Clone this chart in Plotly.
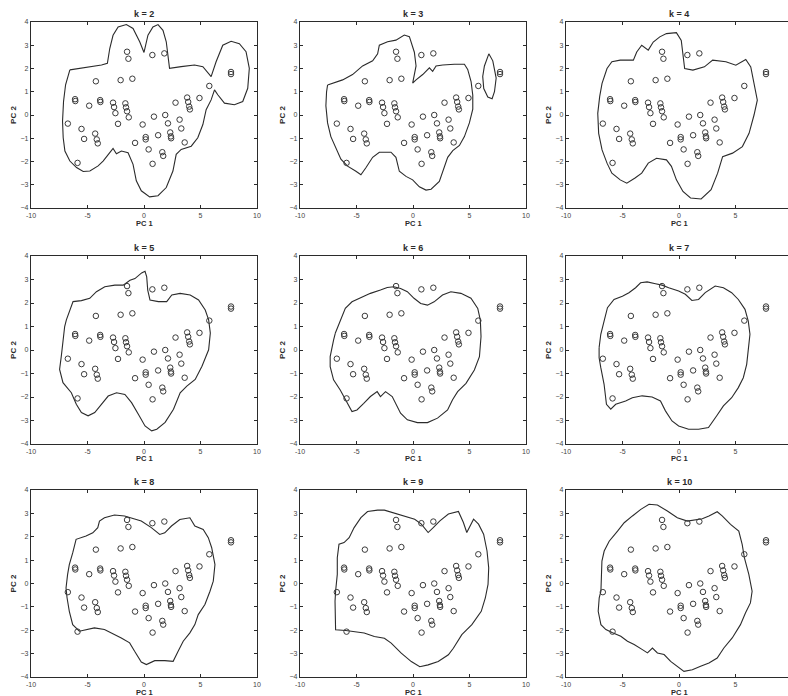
import plotly.graph_objects as go

# ---------------- data ----------------
PANEL_TITLES = ["k = 2", "k = 3", "k = 4", "k = 5", "k = 6", "k = 7", "k = 8", "k = 9", "k = 10"]
X_TICKS = [-10, -5, 0, 5, 10]
Y_TICKS = [-4, -3, -2, -1, 0, 1, 2, 3, 4]

PC1 = [-1.5, -1.38, 0.74, 1.8, -4.26, -2.07, -1.03, 5.78, -6.1, -6.08, -4.85, -3.88, -3.86,
       -2.74, -2.65, -2.53, -2.3, -1.65, -1.59, -1.5, -1.35, -6.74, -5.53, -5.3, -4.32, -4.18,
       -4.09, -5.88, -0.12, 0.88, 1.88, 2.12, 2.32, 2.38, 2.4, 2.79, 3.15, 3.3, 3.82, 3.91, 4.0,
       4.06, 4.91, 7.7, 7.7, -0.79, 0.15, 0.15, 1.25, 0.41, 1.62, 1.7, 0.76, 3.6]
PC2 = [2.72, 2.42, 2.58, 2.65, 1.45, 1.5, 1.56, 1.25, 0.68, 0.6, 0.4, 0.64, 0.56,
       0.53, 0.34, 0.08, -0.38, 0.5, 0.33, 0.16, -0.1, -0.37, -0.6, -1.03, -0.8, -1.05,
       -1.22, -2.06, -0.41, -0.07, 0.0, -0.36, -0.75, -0.92, -1.0, 0.53, -0.2, -0.58, 0.75, 0.56, 0.36,
       0.24, 0.73, 1.85, 1.76, -1.2, -0.95, -1.05, -0.87, -1.48, -1.6, -1.76, -2.1, -1.18]

K2_X = [-6.56, -5.53, -4.5, -3.76, -3.24, -3.03, -2.74, -2.29, -1.56, -0.97, -0.38, 0.0, 0.35, 0.79, 1.24,
        1.68, 1.97, 2.12, 2.26, 3.29, 4.47, 5.21, 5.65, 5.94, 6.38, 6.97, 7.71, 8.44, 9.03, 9.32, 9.18,
        8.74, 8.0, 7.12, 6.53, 6.24, 5.94, 5.5, 5.21, 4.76, 4.18, 3.29, 2.85, 2.56, 1.97, 1.24, 0.5,
        -0.24, -0.68, -0.97, -1.41, -2.0, -2.44, -2.74, -3.03, -3.62, -4.06, -4.79, -5.38, -5.97,
        -6.56, -7.0, -7.15, -7.21, -7.12, -6.94, -6.56]
K2_Y = [1.94, 2.01, 2.08, 2.15, 2.22, 2.86, 3.43, 3.79, 3.89, 3.72, 3.15, 2.69, 3.43, 3.79, 3.89,
        3.64, 3.15, 2.51, 2.01, 2.08, 2.15, 2.08, 1.79, 1.65, 2.29, 3.0, 3.17, 3.07, 2.72, 2.01, 1.15,
        0.58, 0.44, 0.51, 0.87, 1.08, 0.65, 0.23, -0.41, -0.98, -1.34, -1.48, -1.69, -2.41, -3.12,
        -3.47, -3.52, -3.26, -2.83, -2.12, -1.62, -1.55, -1.67, -1.44, -1.62, -1.98, -2.19, -2.41,
        -2.43, -2.26, -1.98, -1.55, -0.98, -0.27, 0.58, 1.3, 1.94]

K3_X = [-7.56, -6.23, -5.35, -4.46, -3.57, -3.13, -2.98, -2.25, -1.51, -0.77, -0.32, 0.12, 0.27,
        -0.03, 0.27, 0.86, 1.45, 1.74, 2.04, 2.63, 3.66, 4.55, 4.84, 5.14, 5.29, 5.29, 4.99, 4.55,
        4.11, 3.52, 3.07, 2.78, 2.33, 1.6, 1.15, 0.56, -0.03, -0.62, -1.21, -1.51, -1.95, -2.98,
        -3.57, -4.17, -4.61, -5.05, -5.79, -6.38, -6.82, -7.27, -7.56, -7.71, -7.65, -7.56]
K3_Y = [1.29, 1.51, 1.74, 2.11, 2.33, 2.63, 3.0, 3.15, 3.22, 3.44, 3.37, 2.7, 2.11,
        1.37, 1.51, 1.74, 2.03, 1.88, 2.11, 2.15, 2.18, 2.18, 1.96, 1.44, 0.85, 0.25, -0.34, -0.93,
        -1.31, -1.53, -1.82, -2.27, -2.86, -3.19, -3.23, -3.09, -2.79, -2.64, -2.42, -1.82, -1.6, -1.6,
        -1.82, -2.27, -2.57, -2.42, -2.2, -1.9, -1.45, -0.93, -0.34, 0.4, 0.99, 1.29]
K3B_X = [6.32, 6.71, 7.06, 7.36, 7.21, 7.0, 6.62, 6.26, 6.17, 6.32]
K3B_Y = [2.11, 2.63, 2.33, 1.59, 1.0, 0.7, 0.77, 1.14, 1.66, 2.11]

K4_X = [-6.81, -6.37, -5.94, -5.2, -4.04, -3.74, -3.3, -2.72, -2.28, -1.7, -1.11, -0.23, 0.2, 0.35,
        0.5, 1.23, 2.25, 2.98, 4.15, 5.03, 5.91, 6.35, 6.64, 6.93, 6.64, 6.2, 5.61, 4.74, 3.86, 3.42,
        2.84, 1.96, 1.02, 0.35, -0.23, -0.67, -1.11, -1.99, -2.72, -3.3, -3.89, -4.62, -5.2, -5.94,
        -6.37, -6.81, -7.11, -7.19, -7.02, -6.81]
K4_Y = [1.36, 2.0, 2.29, 2.36, 2.36, 2.71, 3.0, 2.79, 3.14, 3.36, 3.5, 3.54, 3.21, 2.64,
        2.0, 1.93, 2.07, 2.36, 2.29, 2.14, 2.39, 2.07, 1.36, 0.64, 0.0, -0.79, -1.36, -1.64, -1.79, -2.5,
        -3.21, -3.61, -3.57, -3.29, -2.79, -2.21, -1.93, -1.86, -2.07, -2.5, -2.71, -2.93, -2.79, -2.5,
        -2.07, -1.5, -0.79, 0.07, 0.79, 1.36]

K5_X = [-6.87, -6.58, -6.28, -5.54, -4.8, -4.21, -3.47, -2.58, -1.84, -1.24, -0.8, -0.21, 0.09, 0.24,
        0.33, 0.53, 1.27, 2.01, 2.46, 3.2, 4.09, 4.83, 5.42, 5.72, 5.87, 5.72, 5.13, 4.53, 3.79, 3.2,
        2.61, 1.87, 1.13, 0.68, 0.09, -0.5, -1.1, -1.69, -2.43, -3.17, -3.76, -4.36, -4.95, -5.54,
        -5.99, -6.43, -7.17, -7.47, -7.32, -7.17, -7.02, -6.87]
K5_Y = [1.28, 1.7, 2.06, 2.1, 2.2, 2.48, 2.69, 2.76, 2.76, 2.97, 3.04, 3.28, 3.35, 3.11,
        2.55, 2.13, 2.06, 2.06, 2.34, 2.41, 2.34, 2.13, 1.7, 1.28, 0.72, 0.01, -0.69, -1.25, -1.54, -1.82,
        -2.52, -3.08, -3.37, -3.44, -3.23, -2.73, -2.24, -1.89, -1.82, -1.96, -2.31, -2.66, -2.8, -2.66,
        -2.31, -1.82, -1.39, -0.83, -0.27, 0.44, 1.0, 1.28]

K6_X = [-6.88, -6.44, -5.99, -5.4, -4.66, -3.77, -2.88, -2.28, -1.69, -1.1, -0.5, 0.09, 0.68, 1.28,
        1.87, 2.61, 3.35, 4.24, 5.13, 5.73, 5.96, 6.02, 5.88, 5.43, 4.69, 3.95, 3.5, 3.06, 2.17, 1.28,
        0.39, -0.5, -1.1, -1.54, -1.84, -2.43, -2.88, -3.17, -3.77, -4.36, -4.96, -5.4, -5.85, -6.44,
        -7.03, -7.33, -7.33, -7.18, -7.03, -6.88]
K6_Y = [0.71, 1.27, 1.77, 2.05, 2.2, 2.41, 2.55, 2.66, 2.69, 2.62, 2.48, 2.2, 1.98, 1.91,
        2.05, 2.34, 2.48, 2.41, 2.2, 1.77, 1.27, 0.57, -0.28, -0.85, -1.42, -1.77, -2.12, -2.55, -2.9, -3.09,
        -3.09, -2.97, -2.69, -2.27, -1.98, -1.77, -1.98, -1.77, -1.98, -2.27, -2.55, -2.62, -2.2, -1.7,
        -1.27, -0.71, -0.28, 0.14, 0.42, 0.71]

K7_X = [-7.07, -6.92, -6.63, -6.33, -5.75, -5.01, -4.43, -3.84, -3.4, -2.82, -2.08, -1.5, -0.91, -0.03,
        0.56, 1.14, 1.73, 2.32, 3.2, 3.93, 4.66, 5.25, 5.84, 6.13, 6.28, 6.13, 5.99, 5.69, 5.25, 4.66,
        3.93, 3.34, 2.61, 1.73, 0.85, -0.03, -0.62, -1.2, -1.64, -2.38, -3.26, -4.13, -4.72, -5.6,
        -6.04, -6.42, -6.63, -6.92, -7.07, -7.07]
K7_Y = [0.1, 0.67, 1.23, 1.8, 2.15, 2.29, 2.44, 2.65, 2.86, 2.9, 2.82, 2.76, 2.65, 2.51,
        2.37, 2.11, 2.15, 2.44, 2.72, 2.65, 2.44, 2.15, 1.73, 1.23, 0.67, -0.04, -0.61, -1.18, -1.6, -2.03,
        -2.38, -2.8, -3.3, -3.37, -3.37, -3.23, -3.02, -2.59, -2.17, -2.0, -1.95, -2.03, -2.17, -2.31,
        -2.52, -2.31, -1.46, -0.75, -0.33, 0.1]

K8_X = [-6.76, -6.61, -6.31, -6.01, -5.13, -4.53, -4.09, -3.94, -3.5, -2.61, -1.72, -1.13, -0.24, 0.65,
        1.39, 1.84, 2.43, 3.17, 4.06, 4.5, 5.24, 5.69, 5.99, 6.28, 6.13, 5.84, 5.39, 4.8, 4.5, 4.06,
        3.47, 3.02, 2.58, 1.84, 0.95, 0.21, -0.24, -0.83, -1.27, -2.01, -2.9, -3.5, -4.39, -5.13,
        -5.72, -6.31, -6.61, -6.81, -6.9, -6.76]
K8_Y = [0.39, 0.81, 1.31, 1.89, 2.03, 2.17, 2.39, 2.67, 2.81, 2.93, 2.89, 2.81, 2.67, 2.39,
        2.1, 2.17, 2.46, 2.74, 2.81, 2.46, 2.31, 1.96, 1.53, 0.81, 0.1, -0.33, -0.9, -1.33, -1.76, -2.11,
        -2.47, -2.9, -3.33, -3.3, -3.3, -3.47, -3.36, -2.9, -2.54, -2.33, -2.11, -1.97, -1.9, -1.97,
        -2.04, -1.76, -1.19, -0.61, -0.19, 0.39]

K9_X = [-6.85, -6.7, -6.7, -6.55, -6.1, -5.65, -5.21, -4.61, -4.02, -3.13, -2.53, -1.79, -0.74, 0.15,
        0.74, 1.34, 1.79, 2.38, 3.13, 4.02, 4.46, 4.76, 5.36, 5.8, 6.25, 6.55, 6.7, 6.64, 6.4, 6.04,
        5.21, 4.32, 3.57, 3.13, 2.23, 1.34, 0.6, -0.15, -1.04, -1.93, -2.53, -3.42, -4.32, -5.21,
        -5.95, -6.85, -6.9, -6.9, -6.85]
K9_Y = [-0.33, 0.39, 1.1, 1.68, 1.75, 1.96, 2.39, 2.82, 3.08, 3.14, 3.14, 3.04, 2.9, 2.75,
        2.54, 2.18, 2.39, 2.68, 2.97, 3.08, 2.61, 2.18, 2.75, 2.54, 2.11, 1.39, 0.67, -0.04, -0.62, -1.19,
        -1.76, -2.19, -2.77, -3.05, -3.34, -3.48, -3.56, -3.34, -2.98, -2.55, -2.34, -2.27, -2.12, -2.05,
        -2.01, -1.98, -1.33, -0.76, -0.33]

K10_X = [-6.91, -6.82, -6.62, -6.18, -5.44, -4.85, -4.12, -3.38, -2.65, -1.91, -1.03, -0.15, 0.74, 1.32,
         2.06, 2.65, 3.38, 3.82, 4.56, 5.29, 5.59, 5.79, 6.18, 6.47, 6.32, 5.88, 5.44, 4.71, 3.97, 3.38,
         2.65, 1.91, 1.18, 0.44, -0.15, -0.74, -1.32, -1.91, -2.35, -2.79, -3.24, -3.97, -4.56, -5.15,
         -5.88, -6.47, -6.91, -7.15, -7.06, -6.91]
K10_Y = [-0.33, 0.96, 1.39, 1.81, 2.24, 2.6, 2.89, 3.17, 3.39, 3.36, 3.1, 2.81, 2.67, 2.71,
         2.77, 2.89, 3.07, 2.89, 2.53, 2.24, 1.67, 1.1, 0.39, -0.33, -0.83, -1.26, -1.76, -2.33, -2.76, -3.19,
         -3.4, -3.54, -3.69, -3.76, -3.54, -3.33, -3.04, -2.97, -2.76, -2.97, -2.83, -2.61, -2.47, -2.26,
         -2.11, -1.97, -1.76, -1.19, -0.61, -0.33]

CONTOURS = [
    [(K2_X, K2_Y)],
    [(K3_X, K3_Y), (K3B_X, K3B_Y)],
    [(K4_X, K4_Y)],
    [(K5_X, K5_Y)],
    [(K6_X, K6_Y)],
    [(K7_X, K7_Y)],
    [(K8_X, K8_Y)],
    [(K9_X, K9_Y)],
    [(K10_X, K10_Y)],
]

# ---------------- layout geometry ----------------
W, H = 788, 696
COL_PX = [(31, 257), (300, 526), (566, 788)]
ROW_PX = [(22, 208), (256, 444), (490, 677)]
FULL_W = 257 - 31

INK = "#2b2b2b"
FONT = "Liberation Sans"

fig = go.Figure()
annotations = []
layout_axes = {}

for i in range(9):
    r, c = divmod(i, 3)
    n = i + 1
    xa = "x" if n == 1 else f"x{n}"
    ya = "y" if n == 1 else f"y{n}"
    xkey = "xaxis" if n == 1 else f"xaxis{n}"
    ykey = "yaxis" if n == 1 else f"yaxis{n}"

    for (cx, cy) in CONTOURS[i]:
        fig.add_trace(go.Scatter(x=cx, y=cy, mode="lines", xaxis=xa, yaxis=ya,
                                 line=dict(color=INK, width=1.1), hoverinfo="skip",
                                 showlegend=False))
    fig.add_trace(go.Scatter(x=PC1, y=PC2, mode="markers", xaxis=xa, yaxis=ya,
                             marker=dict(symbol="circle-open", size=5.5, color="#3a3a3a",
                                         line=dict(width=1.0)),
                             showlegend=False))

    x0, x1 = COL_PX[c]
    t, b = ROW_PX[r]
    xdom = [x0 / W, x1 / W]
    ydom = [1 - b / H, 1 - t / H]
    xmax = 10 if c < 2 else -10 + 20 * (x1 - x0) / FULL_W

    layout_axes[xkey] = dict(
        domain=xdom, range=[-10, xmax], anchor=ya, tickvals=X_TICKS, automargin=False,
        ticktext=[str(v) for v in X_TICKS], ticks="inside", ticklen=3, tickcolor=INK,
        showline=True, linecolor=INK, linewidth=1.3, mirror="ticks", showgrid=False,
        zeroline=False, tickfont=dict(family=FONT, size=7, color="#444"),
    )
    layout_axes[ykey] = dict(
        domain=ydom, range=[-4, 4], anchor=xa, tickvals=Y_TICKS, ticks="inside", ticklen=3,
        tickcolor=INK, showline=True, linecolor=INK, linewidth=1.3, automargin=False,
        mirror="ticks" if c < 2 else False, showgrid=False, zeroline=False,
        tickfont=dict(family=FONT, size=7, color="#444"),
        title=dict(text="<b>PC 2</b>", font=dict(family=FONT, size=8, color=INK), standoff=2),
    )
    cx_mid = (x0 + FULL_W / 2) / W
    annotations.append(dict(
        text=f"<b>{PANEL_TITLES[i]}</b>", xref="paper", yref="paper",
        x=cx_mid, y=1 - (t - 1) / H, xanchor="center", yanchor="bottom",
        showarrow=False, font=dict(family=FONT, size=9, color=INK),
    ))
    annotations.append(dict(
        text="<b>PC 1</b>", xref="paper", yref="paper",
        x=cx_mid, y=1 - (b + 15) / H, xanchor="center", yanchor="middle",
        showarrow=False, font=dict(family=FONT, size=7.5, color=INK),
    ))

fig.update_layout(
    template="none",
    width=W, height=H, margin=dict(l=0, r=0, t=0, b=0, autoexpand=False),
    paper_bgcolor="white", plot_bgcolor="white",
    annotations=annotations, **layout_axes,
)

fig.write_html("out.html", config={"displayModeBar": False},
               post_script="document.body.style.margin='0';")
